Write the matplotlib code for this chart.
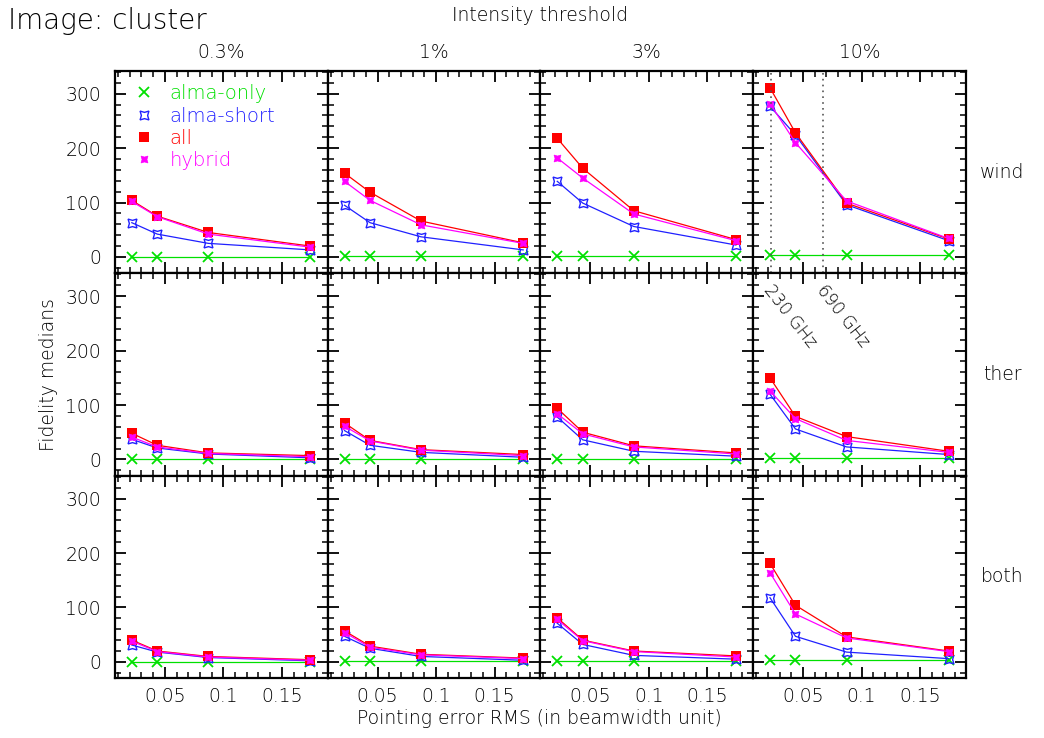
import matplotlib
matplotlib.use("Agg")
import matplotlib.pyplot as plt
from matplotlib.lines import Line2D
from matplotlib.ticker import MultipleLocator

plt.rcParams['font.family'] = ['DejaVu Sans']
plt.rcParams['font.weight'] = 'light'

# pointing error RMS (beamwidth unit), same for every panel
pointing = [0.0218, 0.0436, 0.0872, 0.1744]
thresholds = ['0.3%', '1%', '3%', '10%']
configs = ['wind', 'ther', 'both']

# fidelity medians: one list per threshold, per configuration
alma_only = {
    'wind': [[0.5, 0.5, 0.5, 0.5], [1, 1, 1, 1], [1.5, 1.5, 1.5, 1.5], [3, 3, 3, 3]],
    'ther': [[0.5, 0.5, 0.5, 0.5], [1, 1, 1, 1], [1.5, 1.5, 1.5, 1.5], [3, 3, 3, 3]],
    'both': [[0.5, 0.5, 0.5, 0.5], [1, 1, 1, 1], [1.5, 1.5, 1.5, 1.5], [3, 3, 3, 3]],
}
alma_short = {
    'wind': [[63, 42, 25, 13], [95, 63, 37, 13], [139, 99, 56, 22], [277, 224, 96, 30]],
    'ther': [[37, 21, 10, 3], [53, 26, 13, 4], [78, 36, 15, 6], [120, 56, 23, 9]],
    'both': [[31, 18, 8, 2], [47, 25, 10, 3], [71, 32, 12, 5], [118, 47, 18, 6]],
}
all_arrays = {
    'wind': [[104, 75, 45, 20], [154, 119, 66, 26], [218, 163, 85, 32], [311, 228, 99, 33]],
    'ther': [[48, 26, 12, 7], [67, 35, 18, 9], [94, 50, 25, 12], [150, 79, 42, 15]],
    'both': [[40, 20, 10, 4], [57, 29, 14, 7], [81, 40, 20, 11], [181, 104, 46, 20]],
}
hybrid = {
    'wind': [[102, 74, 42, 18], [139, 104, 59, 25], [182, 145, 79, 30], [282, 210, 103, 34]],
    'ther': [[41, 23, 11, 5], [61, 34, 17, 7], [84, 47, 23, 10], [126, 75, 35, 13]],
    'both': [[38, 19, 9, 3], [54, 27, 13, 6], [78, 39, 19, 9], [164, 88, 44, 19]],
}

# reference frequencies marked in the 10% wind panel
freq_marks = [0.0223, 0.067]
freq_labels = ['230 GHz', '690 GHz']

GREEN = '#00e000'
BLUE = '#2020ff'
RED = '#ff0000'
MAGENTA = '#ff00ff'

series = [
    ('alma-only', alma_only, dict(color=GREEN, marker='x', ms=7, mew=1.3)),
    ('alma-short', alma_short, dict(color=BLUE, marker=(4, 1, 45), ms=9, mew=1.0,
                                    fillstyle='none')),
    ('all', all_arrays, dict(color=RED, marker='s', ms=6.5, mew=0)),
    ('hybrid', hybrid, dict(color=MAGENTA, marker=(4, 1, 45), ms=7, mew=0.5)),
]

fig, axes = plt.subplots(3, 4, figsize=(10.44, 7.38), dpi=100, sharex=True, sharey=True)
fig.subplots_adjust(left=0.110, right=0.925, top=0.904, bottom=0.081, wspace=0, hspace=0)

FS = 13.5

for r, cfg in enumerate(configs):
    for c, thr in enumerate(thresholds):
        ax = axes[r, c]
        for name, data, style in series:
            ax.plot(pointing, data[cfg][c], lw=0.9, **style)

        ax.set_xlim(0.0073, 0.189)
        ax.set_ylim(-30, 342)
        ax.xaxis.set_major_locator(MultipleLocator(0.05))
        ax.xaxis.set_minor_locator(MultipleLocator(0.01))
        ax.yaxis.set_major_locator(MultipleLocator(100))
        ax.yaxis.set_minor_locator(MultipleLocator(20))
        ax.tick_params(which='both', direction='in', top=True, right=True,
                       labelsize=FS, color='black')
        ax.tick_params(which='major', length=8, width=1.3)
        ax.tick_params(which='minor', length=4.5, width=1.1)
        ax.tick_params(axis='y', pad=10)
        ax.tick_params(axis='x', pad=6)
        for sp in ax.spines.values():
            sp.set_linewidth(1.6)
        ax.set_xticks([0.05, 0.1, 0.15])
        ax.set_xticklabels(['0.05', '0.1', '0.15'])
        ax.set_yticks([0, 100, 200, 300])
        if r != 2:
            ax.tick_params(axis='x', labelbottom=False)
        if c != 0:
            ax.tick_params(axis='y', labelleft=False)

        if r == 0:
            ax.text(0.5, 1.09, thr, transform=ax.transAxes, ha='center', va='center',
                    fontsize=FS)
        if c == 3:
            ax.text(1.17, 0.5, cfg, transform=ax.transAxes, ha='center', va='center',
                    fontsize=FS)

# frequency markers in the 10% / wind panel and their labels below
ax_w = axes[0, 3]
for xv in freq_marks:
    ax_w.axvline(xv, color='#555555', ls=(0, (1, 2.5)), lw=1.2)
ax_t = axes[1, 3]
for xv, lab in zip(freq_marks, freq_labels):
    ax_t.text(xv + 0.0166, 263, lab, rotation=-52, ha='center', va='center',
              fontsize=12.5, rotation_mode='anchor')

# legend in the first panel
handles = [Line2D([], [], ls='none', **style) for _, _, style in series]
labels = [name for name, _, _ in series]
axes[0, 0].legend(handles, labels, loc='upper left', frameon=False, fontsize=FS + 0.5,
                  labelcolor='linecolor', handlelength=0.8, handletextpad=0.9,
                  labelspacing=0.17, borderaxespad=0.5, bbox_to_anchor=(0.02, 1.02))

fig.text(0.008, 0.972, 'Image: cluster', fontsize=20, ha='left', va='center')
fig.text(0.517, 0.979, 'Intensity threshold', fontsize=FS, ha='center', va='center')
fig.text(0.046, 0.492, 'Fidelity medians', fontsize=FS, rotation=90,
         ha='center', va='center')
fig.text(0.517, 0.027, 'Pointing error RMS (in beamwidth unit)', fontsize=FS,
         ha='center', va='center')

fig.savefig('out.png', dpi=100)
